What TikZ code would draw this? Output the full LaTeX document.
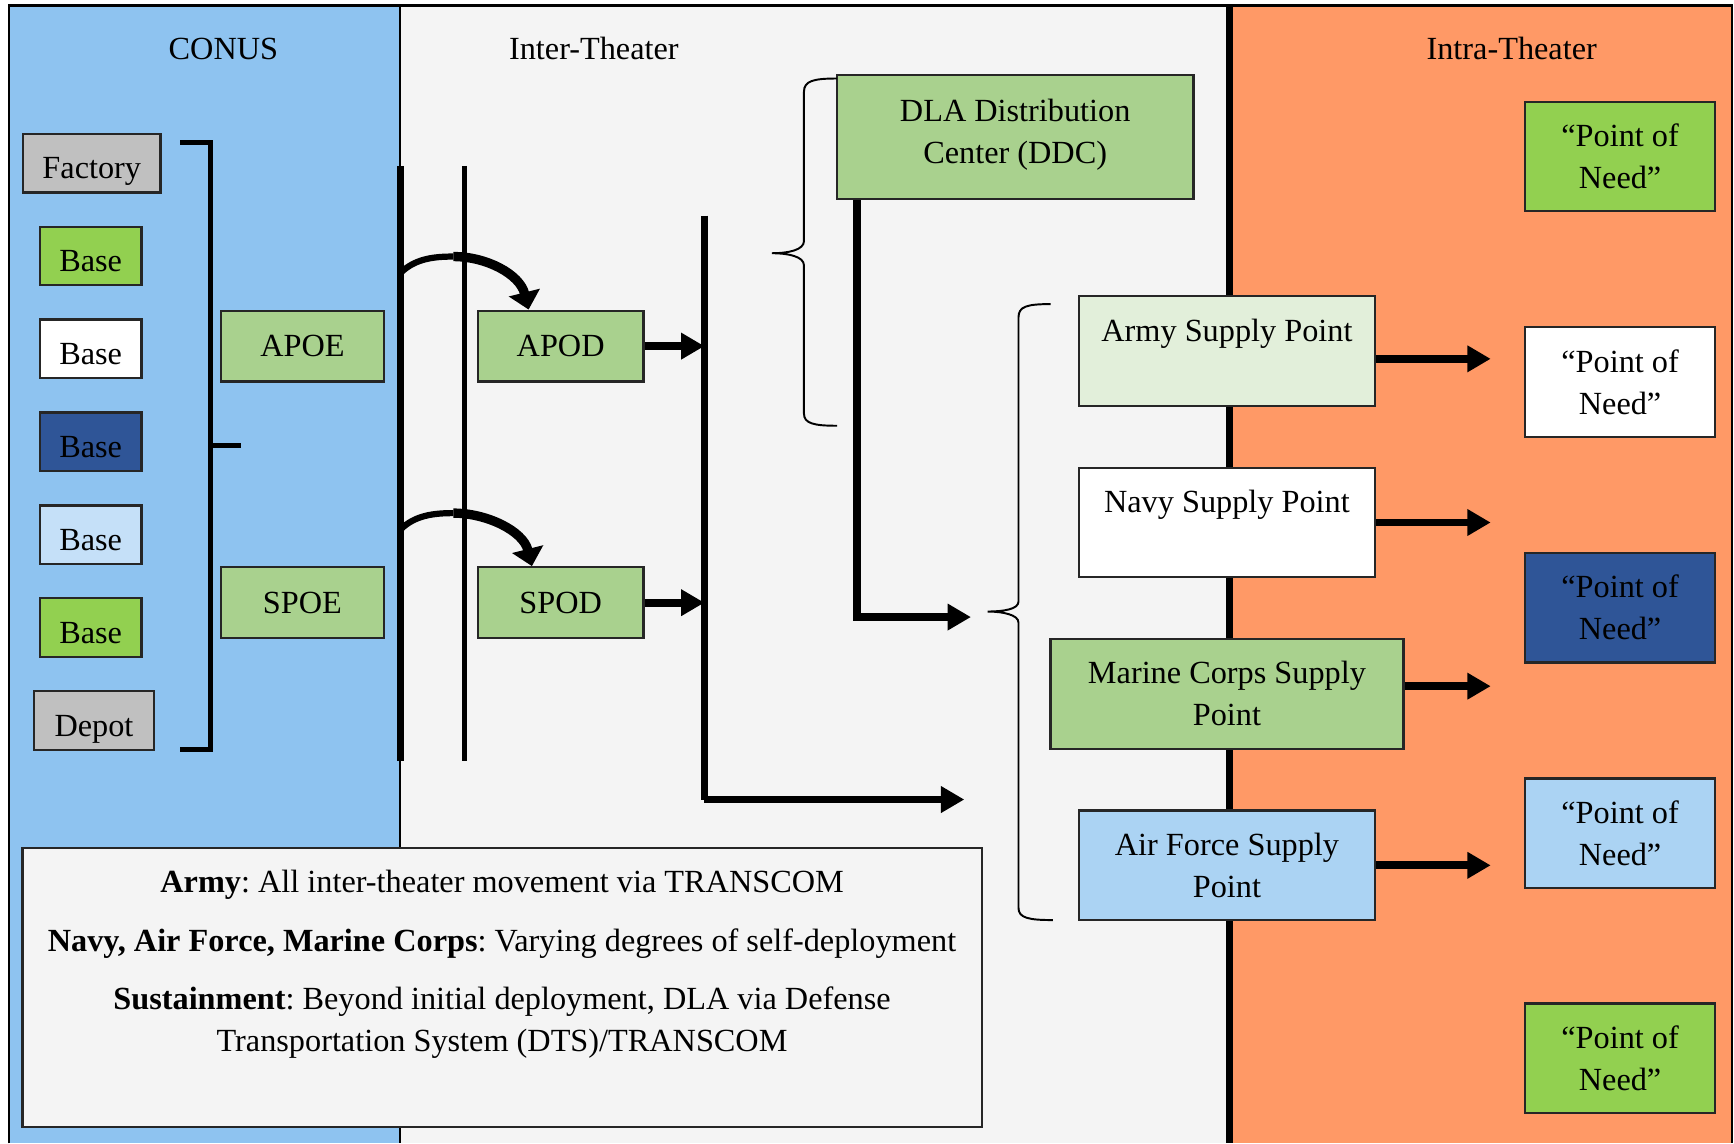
\documentclass[tikz,border=0pt]{standalone}
\usepackage{fontspec}
\setmainfont{Liberation Serif}
\usepackage{tikz}
\usetikzlibrary{arrows.meta}
\usetikzlibrary{calc}
\frenchspacing

\definecolor{conusblue}{HTML}{8EC3F0}
\definecolor{intergray}{HTML}{F4F4F4}
\definecolor{intraorange}{HTML}{FF9966}
\definecolor{portgreen}{HTML}{A9D18E}
\definecolor{limegreen}{HTML}{92D050}
\definecolor{darkblue}{HTML}{2F5597}
\definecolor{paleblue}{HTML}{C5E0F8}
\definecolor{skyblue}{HTML}{ABD3F3}
\definecolor{armygreen}{HTML}{E2EFDA}
\definecolor{plantgray}{HTML}{C0C0C0}

\begin{document}
\begin{tikzpicture}[x=0.01cm, y=-0.01cm,
		every node/.style={font=\fontsize{8.3}{10.8}\selectfont},
		box/.style={draw=black!85, line width=0.6pt, align=center, inner sep=1pt},
		source/.style={box, minimum height=0.53cm, text height=8pt, text depth=0pt},
		flow/.style={line width=2pt, -{Triangle[length=6pt, width=6.5pt]}},
		hop/.style={line width=2.4pt, -{Triangle[length=4.5pt, width=8pt]}},
		grouping/.style={line width=0.5pt}]
		\useasboundingbox (0,0) rectangle (1568,1034);
		
		% columns
		\fill[conusblue] (8,5) rectangle (362,1034);
		\fill[intergray] (362,5) rectangle (1112,1034);
		\fill[intraorange] (1112,5) rectangle (1566,1034);
		\draw[line width=0.6pt] (8,1034) -- (8,5) -- (1566,5) -- (1566,1034);
		\draw[line width=0.5pt] (362,5) -- (362,1034);
		\draw[line width=1.9pt] (1112,5) -- (1112,1034);
		
		\node (conus) at (202,44) {CONUS};
		\node (inter) at (537,44) {Inter-Theater};
		\node (intra) at (1367,44) {Intra-Theater};
		
		% sources
		\node[source, fill=plantgray, minimum width=1.24cm] (factory) at (83,147.5) {Factory};
		\node[source, fill=limegreen, minimum width=0.92cm] (basea) at (82,231.5) {Base};
		\node[source, fill=white, minimum width=0.92cm] (baseb) at (82,315.5) {Base};
		\node[source, fill=darkblue, minimum width=0.92cm] (basec) at (82,399.5) {Base};
		\node[source, fill=paleblue, minimum width=0.92cm] (based) at (82,483.5) {Base};
		\node[source, fill=limegreen, minimum width=0.92cm] (basee) at (82,567.5) {Base};
		\node[source, fill=plantgray, minimum width=1.08cm] (depot) at (85,651.5) {Depot};
		
		\draw[line width=1.3pt] (163,129) -- (190,129) -- (190,678) -- (163,678);
		\draw[line width=1.3pt] (190,403) -- (218,403);
		
		% ports
		\node[box, fill=portgreen, minimum width=1.47cm, minimum height=0.64cm] (apoe) at (273.5,313) {APOE};
		\node[box, fill=portgreen, minimum width=1.47cm, minimum height=0.64cm] (spoe) at (273.5,545) {SPOE};
		\node[box, fill=portgreen, minimum width=1.5cm, minimum height=0.64cm] (apod) at (507,313) {APOD};
		\node[box, fill=portgreen, minimum width=1.5cm, minimum height=0.64cm] (spod) at (507,545) {SPOD};
		
		\coordinate (embarktop) at (362,150);
		\coordinate (embarkbot) at (362,688);
		\coordinate (debarktop) at (420,150);
		\coordinate (debarkbot) at (420,688);
		\draw[line width=1.7pt] (embarktop) -- (embarkbot);
		\draw[line width=1.4pt] (debarktop) -- (debarkbot);
		
		\coordinate (airhop) at (362,247);
		\coordinate (airpeak) at (410,232);
		\coordinate (seahop) at (362,479);
		\coordinate (seapeak) at (410,464);
		\draw[line width=1.6pt] (airhop) .. controls (375,234) and (392,232) .. (airpeak);
		\draw[hop] (airpeak) .. controls (440,232) and (470,248) .. ($(apod.north)+(-29,0)$);
		\draw[line width=1.6pt] (seahop) .. controls (375,466) and (392,464) .. (seapeak);
		\draw[hop] (seapeak) .. controls (440,464) and (473,480) .. ($(spod.north)+(-26,0)$);
		
		\coordinate (hubtop) at (637,195);
		\coordinate (hubcorner) at (637,723);
		\coordinate (hubend) at (872,723);
		\draw[line width=1.8pt] (hubtop) -- (hubcorner);
		\draw[flow] (hubcorner) -- (hubend);
		\draw[flow] (apod.east) -- (apod.east -| hubtop);
		\draw[flow] (spod.east) -- (spod.east -| hubtop);
		
		% distribution
		\node[box, fill=portgreen, minimum width=3.22cm, minimum height=1.12cm] (ddc) at (918,124) {DLA Distribution\\Center (DDC)\\[-8pt]~};
		\draw[grouping] (757,71) .. controls (736,71) and (727,73) .. (727,83) -- (727,218)
			.. controls (727,226) and (713,229) .. (698,229) .. controls (713,229) and (727,232) .. (727,240)
			-- (727,374) .. controls (727,383) and (736,385) .. (757,385);
		
		\coordinate (ddccorner) at (775,558);
		\coordinate (ddcend) at (878,558);
		\draw[flow] (ddc.south -| ddccorner) -- (ddccorner) -- (ddcend);
		
		\node[box, fill=armygreen, minimum width=2.67cm, minimum height=0.99cm] (army) at (1109.5,317.5) {Army Supply Point\\~};
		\node[box, fill=white, minimum width=2.67cm, minimum height=0.99cm] (navy) at (1109.5,472.5) {Navy Supply Point\\~};
		\node[box, fill=portgreen, minimum width=3.19cm, minimum height=0.99cm] (marine) at (1109.5,627.5) {Marine Corps Supply\\Point};
		\node[box, fill=skyblue, minimum width=2.67cm, minimum height=0.99cm] (airforce) at (1109.5,782.5) {Air Force Supply\\Point};
		\draw[grouping] (950,275) .. controls (929,275) and (921,277) .. (921,287) -- (921,544)
			.. controls (921,551) and (907,553) .. (893,553) .. controls (907,553) and (921,556) .. (921,563)
			-- (921,821) .. controls (921,830) and (930,832) .. (952,832);
		
		% points of need
		\node[box, fill=limegreen, minimum width=1.72cm, minimum height=0.99cm] (needa) at (1465,141.5) {“Point of\\Need”};
		\node[box, fill=white, minimum width=1.72cm, minimum height=0.99cm] (needb) at (1465,345.5) {“Point of\\Need”};
		\node[box, fill=darkblue, minimum width=1.72cm, minimum height=0.99cm] (needc) at (1465,549.5) {“Point of\\Need”};
		\node[box, fill=skyblue, minimum width=1.72cm, minimum height=0.99cm] (needd) at (1465,753.5) {“Point of\\Need”};
		\node[box, fill=limegreen, minimum width=1.72cm, minimum height=0.99cm] (neede) at (1465,957) {“Point of\\Need”};
		
		\coordinate (needin) at (1348,0);
		\draw[flow] ($(army.east)+(0,7)$) -- ($(army.east -| needin)+(0,7)$);
		\draw[flow] (navy.east) -- (navy.east -| needin);
		\draw[flow] ($(marine.east)+(0,-7)$) -- ($(marine.east -| needin)+(0,-7)$);
		\draw[flow] (airforce.east) -- (airforce.east -| needin);
		
		% notes
		\node[box, fill=intergray, anchor=north] (notes) at (454,766)
		{\parbox[c][2.45cm][t]{8.6cm}{\centering\vspace*{4.7pt}
			\textbf{Army}: All inter-theater movement via TRANSCOM\\[4.2pt]
			\textbf{Navy, Air Force, Marine Corps}: Varying degrees of self-deployment\\[4.2pt]
			\textbf{Sustainment}: Beyond initial deployment, DLA via Defense\\
			Transportation System (DTS)/TRANSCOM}};
		
	\end{tikzpicture}
\end{document}
